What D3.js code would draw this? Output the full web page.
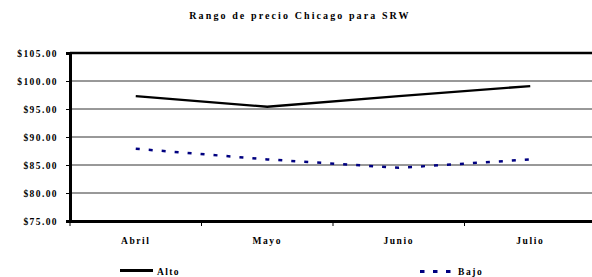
<!DOCTYPE html>
<html><head><meta charset="utf-8">
<script src="https://cdn.jsdelivr.net/npm/d3@7/dist/d3.min.js"></script>
<style>body{margin:0;background:#fff}svg{display:block}</style>
</head><body>
<script>
const categories = ["Abril", "Mayo", "Junio", "Julio"];
const alto = [97.3, 95.4, 97.3, 99.1];
const bajo = [87.9, 86.0, 84.5, 86.0];
const yTicks = [75, 80, 85, 90, 95, 100, 105];
const title = "Rango de precio Chicago para SRW";
const seriesNames = ["Alto", "Bajo"];

const W = 592, H = 277;
const svg = d3.select("body").append("svg").attr("width", W).attr("height", H);
const font = "'Liberation Serif','Times New Roman',serif";

const x = d3.scaleBand().domain(categories).range([70, 596]).paddingInner(0).paddingOuter(0);
const y = d3.scaleLinear().domain([75, 105]).range([221, 53]);

svg.append("text").attr("x", 300).attr("y", 19).attr("text-anchor", "middle")
  .attr("font-family", font).attr("font-weight", "bold").attr("font-size", 10)
  .attr("letter-spacing", 2.1).text(title);

// gridlines
svg.append("g").selectAll("line").data(yTicks.filter(d => d > 75 && d < 105)).join("line")
  .attr("x1", 70).attr("x2", W).attr("y1", d => y(d)).attr("y2", d => y(d))
  .attr("stroke", "#333").attr("stroke-width", 1);

// top border
svg.append("line").attr("x1", 70).attr("x2", W).attr("y1", y(105)).attr("y2", y(105))
  .attr("stroke", "#000").attr("stroke-width", 2.5);

// y axis
const yAxis = svg.append("g").attr("transform", "translate(70,0)")
  .call(d3.axisLeft(y).tickValues(yTicks).tickSize(4).tickFormat(d => "$" + d3.format(".2f")(d)));
yAxis.select(".domain").attr("stroke-width", 3);
yAxis.selectAll(".tick line").attr("stroke-width", 1);
yAxis.selectAll("text").attr("font-family", font).attr("font-weight", "bold")
  .attr("font-size", 9.5).attr("letter-spacing", 1.4).attr("x", -12).attr("fill", "#000");

// x axis
const xAxis = svg.append("g").attr("transform", `translate(0,${y(75)})`)
  .call(d3.axisBottom(x).tickSize(0).tickPadding(16));
xAxis.select(".domain").attr("stroke-width", 3);
xAxis.selectAll("text").attr("font-family", font).attr("font-weight", "bold")
  .attr("font-size", 9.5).attr("letter-spacing", 1.6).attr("fill", "#000");
svg.append("g").selectAll("line").data(categories).join("line")
  .attr("x1", d => x(d)).attr("x2", d => x(d)).attr("y1", y(75)).attr("y2", y(75) + 5)
  .attr("stroke", "#000").attr("stroke-width", 1);

const line = d3.line().x((d, i) => x(categories[i]) + x.bandwidth() / 2).y(d => y(d));
svg.append("path").datum(alto).attr("d", line).attr("fill", "none")
  .attr("stroke", "#000").attr("stroke-width", 2.3);
svg.append("path").datum(bajo).attr("d", line).attr("fill", "none")
  .attr("stroke", "#000080").attr("stroke-width", 2.5).attr("stroke-dasharray", "4,9");

// legend
const lg = svg.append("g");
lg.append("line").attr("x1", 120).attr("x2", 153).attr("y1", 270.5).attr("y2", 270.5)
  .attr("stroke", "#000").attr("stroke-width", 3);
lg.append("text").attr("x", 157).attr("y", 274.5).attr("font-family", font).attr("font-weight", "bold")
  .attr("font-size", 9.5).attr("letter-spacing", 1.4).text(seriesNames[0]);
lg.append("line").attr("x1", 420).attr("x2", 451).attr("y1", 271.5).attr("y2", 271.5)
  .attr("stroke", "#000080").attr("stroke-width", 3).attr("stroke-dasharray", "4.5,8.5");
lg.append("text").attr("x", 458).attr("y", 275).attr("font-family", font).attr("font-weight", "bold")
  .attr("font-size", 9.5).attr("letter-spacing", 1.6).text(seriesNames[1]);
</script>
</body></html>
